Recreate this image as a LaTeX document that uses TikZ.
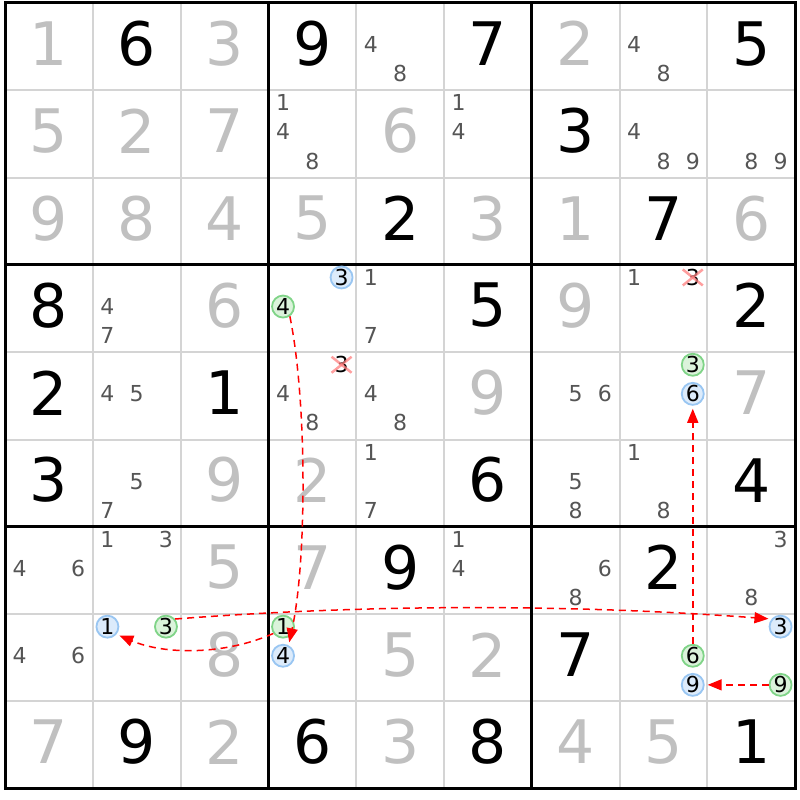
\documentclass[tikz,border=0pt]{standalone}
\usepackage{fontspec}
\setmainfont{DejaVu Sans}
\usetikzlibrary{arrows.meta}
\definecolor{solved}{HTML}{C0C0C0}
\definecolor{candc}{HTML}{555555}
\definecolor{thinc}{HTML}{D4D4D4}
\definecolor{bluef}{HTML}{DCEBFB}
\definecolor{bluel}{HTML}{99C6F2}
\definecolor{greenf}{HTML}{DBF3DB}
\definecolor{greenl}{HTML}{80D488}
\definecolor{linkc}{HTML}{FF0000}
\definecolor{xc}{HTML}{FF8080}
\tikzset{
  bigd/.style={font=\fontsize{60}{60}\selectfont, inner sep=0pt},
  cand/.style={font=\fontsize{22}{22}\selectfont, inner sep=0pt, text=candc},
  bluec/.style={cand, circle, draw=bluel, fill=bluef, line width=1.8pt, minimum size=22pt, text=black},
  greenc/.style={cand, circle, draw=greenl, fill=greenf, line width=1.8pt, minimum size=22pt, text=black},
  strike/.style={draw=xc, line width=2.5pt, opacity=0.75},
  thinl/.style={draw=thinc, line width=2pt},
  thickl/.style={draw=black, line width=3pt},
  link/.style={draw=linkc, line width=1.5pt, dash pattern=on 7pt off 5pt, -{Triangle[length=14pt,width=11pt]}, shorten >=3pt}
}
\newcommand\Gv[3]{\node[bigd,text=black] (n-#1-#2) at ({5+(#2-0.5)*87.8},{(#1-0.5)*87.3}) {#3};}
\newcommand\Sv[3]{\node[bigd,text=solved] (n-#1-#2) at ({5+(#2-0.5)*87.8},{(#1-0.5)*87.3}) {#3};}
\newcommand\CandPos[3]{({5+(#2-1)*87.8+(2*mod(#3-1,3)+1)*87.8/6},{3+(#1-1)*87.3+(2*floor((#3-1)/3)+1)*87.3/6-2})}
\newcommand\Cd[3]{\node[cand] (c-#1-#2-#3) at \CandPos{#1}{#2}{#3} {#3};}
\newcommand\Cb[3]{\node[bluec] (b-#1-#2-#3) at \CandPos{#1}{#2}{#3} {#3};}
\newcommand\Cg[3]{\node[greenc] (g-#1-#2-#3) at \CandPos{#1}{#2}{#3} {#3};}
\newcommand\Cx[3]{\node[cand,text=black] (x-#1-#2-#3) at \CandPos{#1}{#2}{#3} {#3};
  \draw[strike] ([xshift=-10pt,yshift=-8pt]x-#1-#2-#3.center) -- ([xshift=10pt,yshift=8pt]x-#1-#2-#3.center);
  \draw[strike] ([xshift=-10pt,yshift=8pt]x-#1-#2-#3.center) -- ([xshift=10pt,yshift=-8pt]x-#1-#2-#3.center);}
\begin{document}
\begin{tikzpicture}[x=1pt,y=-1pt]
\fill[white] (0,0) rectangle (800,800);
\useasboundingbox (0,0) rectangle (800,800);
% grid
\foreach \i in {1,2,4,5,7,8} {
  \draw[thinl] ({5+\i*87.8},3) -- ({5+\i*87.8},788.7);
  \draw[thinl] (5,{3+\i*87.3}) -- (795.2,{3+\i*87.3});
}
\foreach \i in {3,6} {
  \draw[thickl] ({5+\i*87.8},3) -- ({5+\i*87.8},788.7);
  \draw[thickl] (5,{3+\i*87.3}) -- (795.2,{3+\i*87.3});
}
\draw[thickl] (5,3) rectangle (795.2,788.7);
% row 1
\Sv{1}{1}{1} \Gv{1}{2}{6} \Sv{1}{3}{3} \Gv{1}{4}{9} \Cd{1}{5}{4}\Cd{1}{5}{8} \Gv{1}{6}{7} \Sv{1}{7}{2} \Cd{1}{8}{4}\Cd{1}{8}{8} \Gv{1}{9}{5}
% row 2
\Sv{2}{1}{5}\Sv{2}{2}{2}\Sv{2}{3}{7}\Cd{2}{4}{1}\Cd{2}{4}{4}\Cd{2}{4}{8}\Sv{2}{5}{6}\Cd{2}{6}{1}\Cd{2}{6}{4}\Gv{2}{7}{3}\Cd{2}{8}{4}\Cd{2}{8}{8}\Cd{2}{8}{9}\Cd{2}{9}{8}\Cd{2}{9}{9}
% row 3
\Sv{3}{1}{9}\Sv{3}{2}{8}\Sv{3}{3}{4}\Sv{3}{4}{5}\Gv{3}{5}{2}\Sv{3}{6}{3}\Sv{3}{7}{1}\Gv{3}{8}{7}\Sv{3}{9}{6}
% row 4
\Gv{4}{1}{8}\Cd{4}{2}{4}\Cd{4}{2}{7}\Sv{4}{3}{6}\Cb{4}{4}{3}\Cg{4}{4}{4}\Cd{4}{5}{1}\Cd{4}{5}{7}\Gv{4}{6}{5}\Sv{4}{7}{9}\Cd{4}{8}{1}\Cx{4}{8}{3}\Gv{4}{9}{2}
% row 5
\Gv{5}{1}{2}\Cd{5}{2}{4}\Cd{5}{2}{5}\Gv{5}{3}{1}\Cx{5}{4}{3}\Cd{5}{4}{4}\Cd{5}{4}{8}\Cd{5}{5}{4}\Cd{5}{5}{8}\Sv{5}{6}{9}\Cd{5}{7}{5}\Cd{5}{7}{6}\Cg{5}{8}{3}\Cb{5}{8}{6}\Sv{5}{9}{7}
% row 6
\Gv{6}{1}{3}\Cd{6}{2}{5}\Cd{6}{2}{7}\Sv{6}{3}{9}\Sv{6}{4}{2}\Cd{6}{5}{1}\Cd{6}{5}{7}\Gv{6}{6}{6}\Cd{6}{7}{5}\Cd{6}{7}{8}\Cd{6}{8}{1}\Cd{6}{8}{8}\Gv{6}{9}{4}
% row 7
\Cd{7}{1}{4}\Cd{7}{1}{6}\Cd{7}{2}{1}\Cd{7}{2}{3}\Sv{7}{3}{5}\Sv{7}{4}{7}\Gv{7}{5}{9}\Cd{7}{6}{1}\Cd{7}{6}{4}\Cd{7}{7}{6}\Cd{7}{7}{8}\Gv{7}{8}{2}\Cd{7}{9}{3}\Cd{7}{9}{8}
% row 8
\Cd{8}{1}{4}\Cd{8}{1}{6}\Cb{8}{2}{1}\Cg{8}{2}{3}\Sv{8}{3}{8}\Cg{8}{4}{1}\Cb{8}{4}{4}\Sv{8}{5}{5}\Sv{8}{6}{2}\Gv{8}{7}{7}\Cg{8}{8}{6}\Cb{8}{8}{9}\Cb{8}{9}{3}\Cg{8}{9}{9}
% row 9
\Sv{9}{1}{7}\Gv{9}{2}{9}\Sv{9}{3}{2}\Gv{9}{4}{6}\Sv{9}{5}{3}\Gv{9}{6}{8}\Sv{9}{7}{4}\Sv{9}{8}{5}\Gv{9}{9}{1}
% links
\draw[link] (g-4-4-4.-55) .. controls (307,400) and (307,560) .. (b-8-4-4.62);
\draw[link] (g-8-4-1.-145) .. controls (225,655) and (165,655) .. (b-8-2-1.-40);
\draw[link] (g-8-2-3.40) .. controls (370,604) and (570,604) .. (b-8-9-3.140);
\draw[link] (g-8-8-6) -- (b-5-8-6);
\draw[link] (g-8-9-9) -- (b-8-8-9);
\end{tikzpicture}
\end{document}
